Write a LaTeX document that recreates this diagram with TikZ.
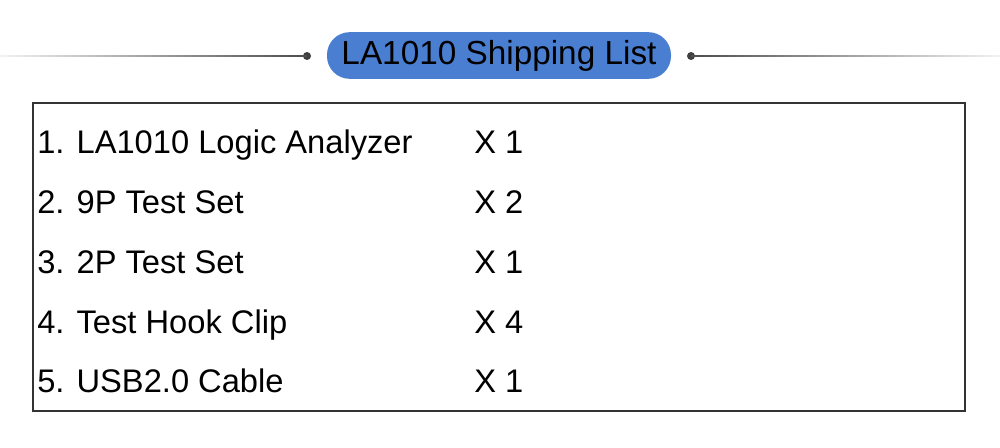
\documentclass[tikz,border=0pt]{standalone}
\usepackage{fontspec}
\setmainfont{Liberation Sans}
\begin{document}
\begin{tikzpicture}[x=0.75pt,y=-0.75pt,
  item/.style={anchor=base west,inner sep=0pt,font=\fontsize{24.5}{26}\selectfont},
  dot/.style={circle,fill=black!75,inner sep=0pt,minimum size=6pt}]
\useasboundingbox (0,0) rectangle (1000,447);
\fill[white] (0,0) rectangle (1000,447);
\node[dot] (dl) at (307,56) {};
\node[dot] (dr) at (691,56) {};
\shade[left color=black!5,right color=black!70] (0,55.3) rectangle (307,56.7);
\shade[left color=black!70,right color=black!5] (691,55.3) rectangle (1000,56.7);
\node[fill={rgb,255:red,74;green,126;blue,208},rounded corners=17pt,minimum width=258pt,minimum height=35pt,inner sep=0pt] (title) at (499,55.5) {};
\node[inner sep=0pt,anchor=base,font=\fontsize{25}{26}\selectfont] (titletext) at (499,64) {LA1010 Shipping List};
\draw[black!80,line width=1.5pt] (33,103) rectangle (965,411);
\foreach \y/\a/\b [count=\i] in {142/LA1010 Logic Analyzer/1, 202/9P Test Set/2, 262/2P Test Set/1, 322/Test Hook Clip/4, 381/USB2.0 Cable/1}{
  \node[item] (n\i) at (37,\y+11) {\i. \a};
  \node[item] (q\i) at (474,\y+11) {X \b};
}
\end{tikzpicture}
\end{document}
